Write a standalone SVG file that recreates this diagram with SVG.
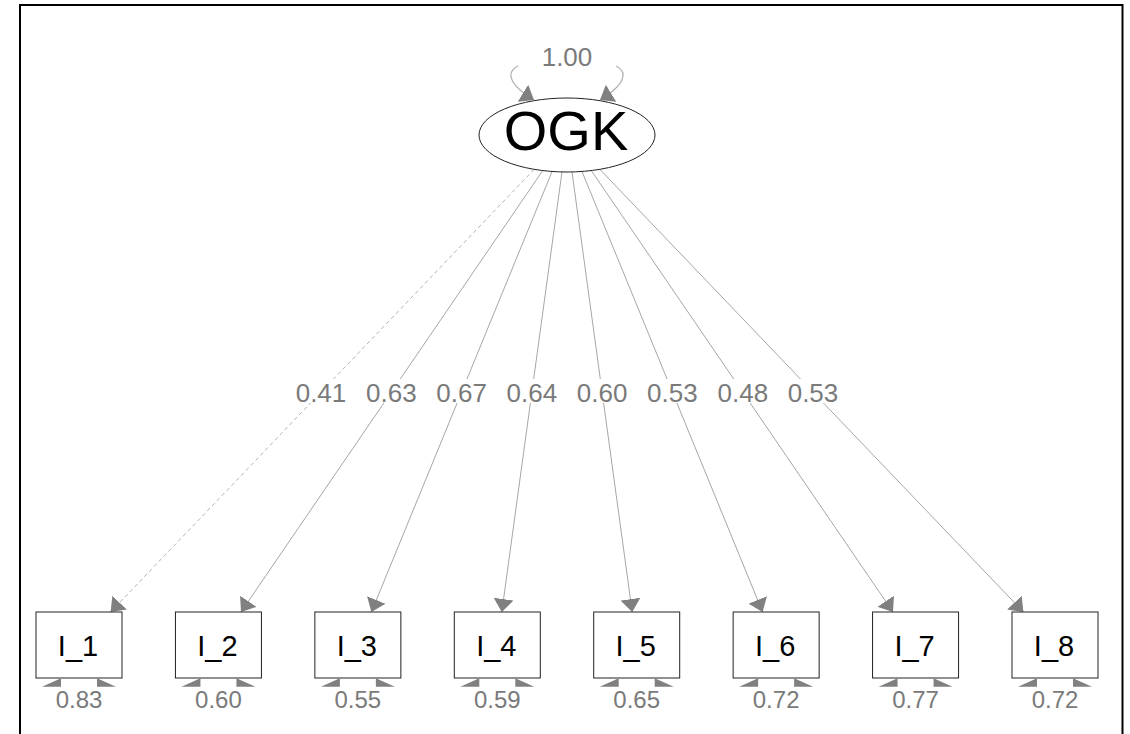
<svg xmlns="http://www.w3.org/2000/svg" width="1130" height="734" viewBox="0 0 1130 734">
  <style>
    text { font-family: "Liberation Sans", Arial, sans-serif; }
    .edge { stroke: #a6a6a6; stroke-width: 1; fill: none; }
    .dash { stroke-dasharray: 4 3; stroke: #b4b4b4; }
    .loop { stroke: #b0b0b0; stroke-width: 1.2; fill: none; }
    .lab { fill: #7a7a7a; font-size: 26px; text-anchor: middle; }
    .res { fill: #7a7a7a; font-size: 24px; text-anchor: middle; }
    .top { fill: #7a7a7a; font-size: 26px; text-anchor: middle; }
    .labbg { fill: #ffffff; }
    .box { fill: #ffffff; stroke: #222222; stroke-width: 1; }
    .name { fill: #000000; font-size: 29px; text-anchor: middle; }
    .head { fill: #808080; }
  </style>
  <defs>
    <marker id="ah" viewBox="0 -10 14 20" refX="13" refY="0" markerWidth="14" markerHeight="20" markerUnits="userSpaceOnUse" orient="auto">
      <path d="M0,-10 L13,0 L0,10 z" fill="#808080"/>
    </marker>
  </defs>

  <rect width="1130" height="734" fill="#ffffff"/>
  <!-- outer frame -->
  <rect x="20" y="5" width="1102.5" height="740" fill="none" stroke="#000000" stroke-width="2"/>

  <!-- factor loadings -->
  <g id="connectors">
    <line class="edge dash" x1="534.2" y1="169.3" x2="110.6" y2="612" marker-end="url(#ah)"/>
    <line class="edge" x1="542.7" y1="170.6" x2="241.0" y2="612" marker-end="url(#ah)"/>
    <line class="edge" x1="552.1" y1="171.5" x2="371.4" y2="612" marker-end="url(#ah)"/>
    <line class="edge" x1="562.0" y1="171.9" x2="501.8" y2="612" marker-end="url(#ah)"/>
    <line class="edge" x1="572.0" y1="171.9" x2="632.2" y2="612" marker-end="url(#ah)"/>
    <line class="edge" x1="582.0" y1="171.5" x2="762.6" y2="612" marker-end="url(#ah)"/>
    <line class="edge" x1="591.3" y1="170.6" x2="893.0" y2="612" marker-end="url(#ah)"/>
    <line class="edge" x1="599.8" y1="169.3" x2="1023.4" y2="612" marker-end="url(#ah)"/>

    <!-- latent variance loop -->
    <path class="loop" d="M518,66 C506,72 508,84 534,100" marker-end="url(#ah)"/>
    <path class="loop" d="M616,66 C628,72 626,84 600,100" marker-end="url(#ah)"/>
    <rect class="labbg" x="538" y="44" width="58" height="24"/>
    <text class="top" x="567" y="66">1.00</text>

    <!-- loading labels -->
    <g>
      <rect class="labbg" x="294" y="379" width="54" height="24"/>
      <text class="lab" x="321" y="401.5">0.41</text>
      <rect class="labbg" x="364.3" y="379" width="54" height="24"/>
      <text class="lab" x="391.3" y="401.5">0.63</text>
      <rect class="labbg" x="434.6" y="379" width="54" height="24"/>
      <text class="lab" x="461.6" y="401.5">0.67</text>
      <rect class="labbg" x="504.9" y="379" width="54" height="24"/>
      <text class="lab" x="531.9" y="401.5">0.64</text>
      <rect class="labbg" x="575.1" y="379" width="54" height="24"/>
      <text class="lab" x="602.1" y="401.5">0.60</text>
      <rect class="labbg" x="645.4" y="379" width="54" height="24"/>
      <text class="lab" x="672.4" y="401.5">0.53</text>
      <rect class="labbg" x="715.8" y="379" width="54" height="24"/>
      <text class="lab" x="742.8" y="401.5">0.48</text>
      <rect class="labbg" x="786" y="379" width="54" height="24"/>
      <text class="lab" x="813" y="401.5">0.53</text>
    </g>
  </g>

  <!-- latent factor -->
  <g id="OGK">
    <ellipse cx="567" cy="135" rx="88" ry="37" fill="#ffffff" stroke="#222222" stroke-width="1"/>
    <text x="566" y="150" font-size="56" text-anchor="middle" fill="#000000">OGK</text>
  </g>

  <!-- indicators -->
  <g id="I_1">
    <rect class="box" x="36" y="612" width="86" height="66"/>
    <text class="name" x="78" y="656">I_1</text>
    <polygon class="head" points="42,686.7 61,678.3 61,686.7"/>
    <polygon class="head" points="97,678.3 116,686.7 97,686.7"/>
    <text class="res" x="79" y="707.5">0.83</text>
  </g>
  <g id="I_2">
    <rect class="box" x="175.43" y="612" width="86" height="66"/>
    <text class="name" x="217.43" y="656">I_2</text>
    <polygon class="head" points="181.43,686.7 200.43,678.3 200.43,686.7"/>
    <polygon class="head" points="236.43,678.3 255.43,686.7 236.43,686.7"/>
    <text class="res" x="218.43" y="707.5">0.60</text>
  </g>
  <g id="I_3">
    <rect class="box" x="314.86" y="612" width="86" height="66"/>
    <text class="name" x="356.86" y="656">I_3</text>
    <polygon class="head" points="320.86,686.7 339.86,678.3 339.86,686.7"/>
    <polygon class="head" points="375.86,678.3 394.86,686.7 375.86,686.7"/>
    <text class="res" x="357.86" y="707.5">0.55</text>
  </g>
  <g id="I_4">
    <rect class="box" x="454.29" y="612" width="86" height="66"/>
    <text class="name" x="496.29" y="656">I_4</text>
    <polygon class="head" points="460.29,686.7 479.29,678.3 479.29,686.7"/>
    <polygon class="head" points="515.29,678.3 534.29,686.7 515.29,686.7"/>
    <text class="res" x="497.29" y="707.5">0.59</text>
  </g>
  <g id="I_5">
    <rect class="box" x="593.71" y="612" width="86" height="66"/>
    <text class="name" x="635.71" y="656">I_5</text>
    <polygon class="head" points="599.71,686.7 618.71,678.3 618.71,686.7"/>
    <polygon class="head" points="654.71,678.3 673.71,686.7 654.71,686.7"/>
    <text class="res" x="636.71" y="707.5">0.65</text>
  </g>
  <g id="I_6">
    <rect class="box" x="733.14" y="612" width="86" height="66"/>
    <text class="name" x="775.14" y="656">I_6</text>
    <polygon class="head" points="739.14,686.7 758.14,678.3 758.14,686.7"/>
    <polygon class="head" points="794.14,678.3 813.14,686.7 794.14,686.7"/>
    <text class="res" x="776.14" y="707.5">0.72</text>
  </g>
  <g id="I_7">
    <rect class="box" x="872.57" y="612" width="86" height="66"/>
    <text class="name" x="914.57" y="656">I_7</text>
    <polygon class="head" points="878.57,686.7 897.57,678.3 897.57,686.7"/>
    <polygon class="head" points="933.57,678.3 952.57,686.7 933.57,686.7"/>
    <text class="res" x="915.57" y="707.5">0.77</text>
  </g>
  <g id="I_8">
    <rect class="box" x="1012" y="612" width="86" height="66"/>
    <text class="name" x="1054" y="656">I_8</text>
    <polygon class="head" points="1018,686.7 1037,678.3 1037,686.7"/>
    <polygon class="head" points="1073,678.3 1092,686.7 1073,686.7"/>
    <text class="res" x="1055" y="707.5">0.72</text>
  </g>
</svg>
